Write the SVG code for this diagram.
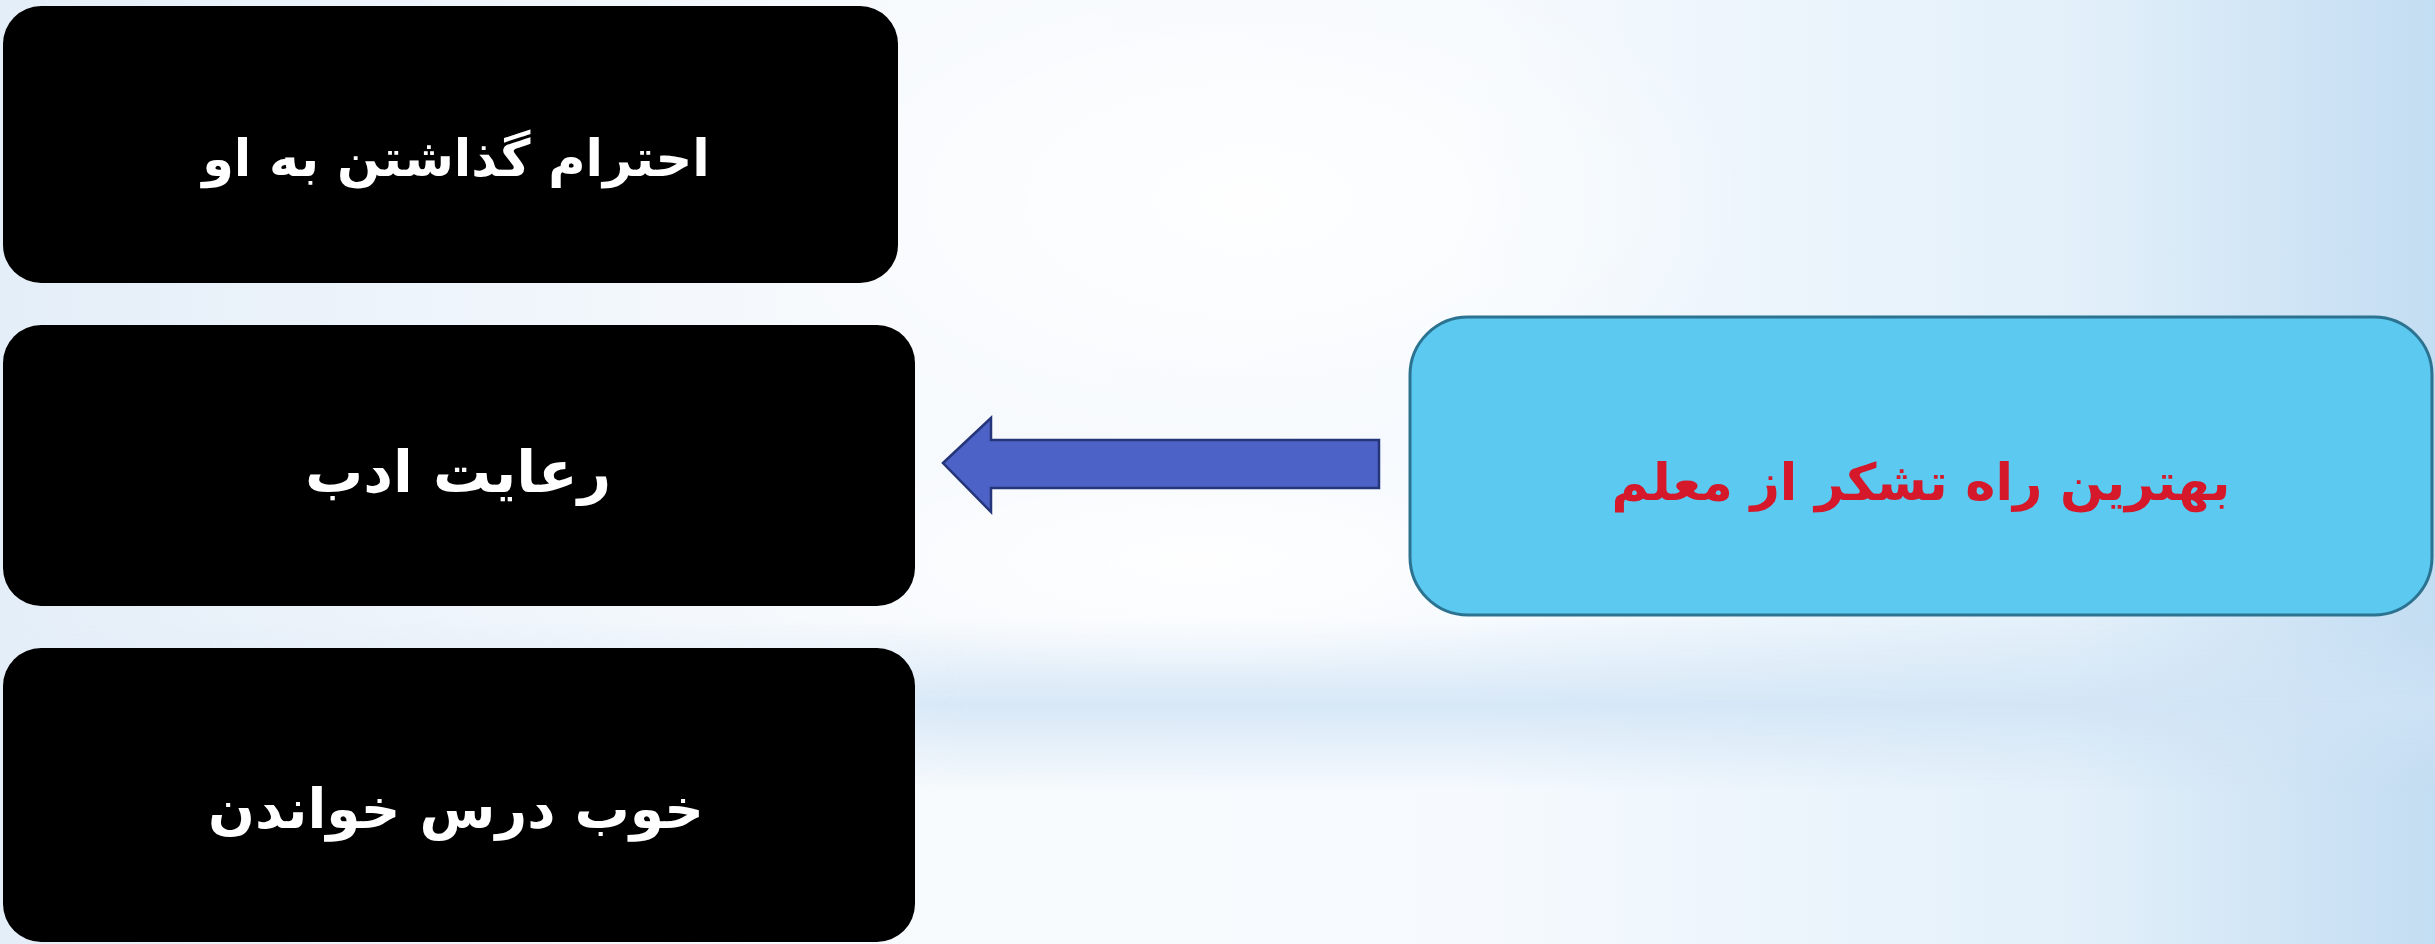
<svg xmlns="http://www.w3.org/2000/svg" width="2435" height="944" viewBox="0 0 2435 944">
  <defs>
    <linearGradient id="bgH" x1="0" y1="0" x2="1" y2="0">
      <stop offset="0" stop-color="#e4eef8"/>
      <stop offset="0.35" stop-color="#f7fafd"/>
      <stop offset="0.6" stop-color="#f6fafe"/>
      <stop offset="0.85" stop-color="#e3f0fa"/>
      <stop offset="1" stop-color="#c3ddf2"/>
    </linearGradient>
    <linearGradient id="band" x1="0" y1="0" x2="0" y2="1">
      <stop offset="0" stop-color="#cfe3f5" stop-opacity="0"/>
      <stop offset="0.5" stop-color="#cfe3f5" stop-opacity="0.8"/>
      <stop offset="1" stop-color="#cfe3f5" stop-opacity="0"/>
    </linearGradient>
    <linearGradient id="bandFade" x1="0" y1="0" x2="1" y2="0">
      <stop offset="0" stop-color="#fff" stop-opacity="0"/>
      <stop offset="0.4" stop-color="#fff" stop-opacity="1"/>
      <stop offset="1" stop-color="#fff" stop-opacity="1"/>
    </linearGradient>
    <mask id="bandMask">
      <rect x="0" y="0" width="2435" height="944" fill="url(#bandFade)"/>
    </mask>
    <radialGradient id="glow" cx="0.5" cy="0.5" r="0.5">
      <stop offset="0" stop-color="#ffffff" stop-opacity="0.9"/>
      <stop offset="1" stop-color="#ffffff" stop-opacity="0"/>
    </radialGradient>
  </defs>
  <style>
    .dark rect { fill: #000000; }
    .dark text { fill: #ffffff; font-family: "DejaVu Sans", sans-serif; font-weight: bold; text-anchor: middle; }
    .main rect { fill: #5cc9f1; stroke: #2b7390; stroke-width: 3; }
    .main text { fill: #d5182a; font-family: "DejaVu Sans", sans-serif; font-weight: bold; text-anchor: middle; }
    .arrow { fill: #4d62c6; stroke: #25357a; stroke-width: 2.5; stroke-linejoin: miter; }
  </style>

  <!-- background -->
  <rect x="0" y="0" width="2435" height="944" fill="url(#bgH)"/>
  <rect x="0" y="620" width="2435" height="170" fill="url(#band)" mask="url(#bandMask)"/>
  <ellipse cx="1250" cy="200" rx="500" ry="260" fill="url(#glow)"/>
  <ellipse cx="1200" cy="560" rx="420" ry="120" fill="url(#glow)"/>

  <g id="node-respect" class="dark">
    <rect x="3" y="6" width="895" height="277" rx="38" ry="38"/>
    <text x="456" y="176" font-size="51" direction="rtl">احترام گذاشتن به او</text>
  </g>

  <g id="node-adab" class="dark">
    <rect x="3" y="325" width="912" height="281" rx="38" ry="38"/>
    <text x="458" y="492" font-size="58" direction="rtl">رعایت ادب</text>
  </g>

  <g id="node-study" class="dark">
    <rect x="3" y="648" width="912" height="294" rx="38" ry="38"/>
    <text x="456" y="828" font-size="55" direction="rtl">خوب درس خواندن</text>
  </g>

  <g id="node-main" class="main">
    <rect x="1410" y="317" width="1022" height="298" rx="58" ry="58"/>
    <text x="1921" y="500" font-size="51" direction="rtl">بهترین راه تشکر از معلم</text>
  </g>

  <g id="connectors">
    <polygon class="arrow" points="943,463 991,418 991,440 1379,440 1379,488 991,488 991,512"/>
  </g>
</svg>
